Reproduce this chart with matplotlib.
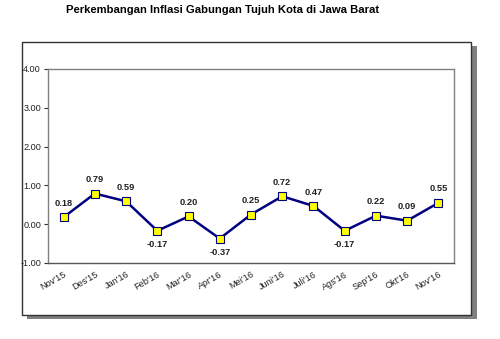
import matplotlib
matplotlib.use("Agg")
import matplotlib.pyplot as plt
from matplotlib.patches import Rectangle

plt.rcParams['font.family'] = ['Liberation Sans', 'DejaVu Sans']

months = ["Nov'15", "Des'15", "Jan'16", "Feb'16", "Mar'16", "Apr'16", "Mei'16",
          "Juni'16", "Juli'16", "Ags'16", "Sep'16", "Okt'16", "Nov'16"]
inflasi = [0.18, 0.79, 0.59, -0.17, 0.20, -0.37, 0.25, 0.72, 0.47, -0.17, 0.22, 0.09, 0.55]
yticks = [-1.0, 0.0, 1.0, 2.0, 3.0, 4.0]

W, H = 500, 339
fig = plt.figure(figsize=(W/100, H/100), dpi=100)

def fx(px):
    return px / W

def fy(py):
    return 1 - py / H

# shadow and outer frame
shadow = Rectangle((fx(27), fy(319)), fx(477) - fx(27), fy(46) - fy(319),
                   transform=fig.transFigure, facecolor='#808080', edgecolor='none', zorder=0)
frame = Rectangle((fx(22), fy(315)), fx(471) - fx(22), fy(42) - fy(315),
                  transform=fig.transFigure, facecolor='white', edgecolor='#333333',
                  linewidth=1.0, zorder=1)
fig.patches.extend([shadow, frame])

fig.text(fx(223), fy(10), 'Perkembangan Inflasi Gabungan Tujuh Kota di Jawa Barat',
         ha='center', va='center', fontsize=8.1, fontweight='bold', color='black')

ax = fig.add_axes([fx(48), fy(263), fx(454) - fx(48), fy(69) - fy(263)])
ax.set_zorder(2)
x = list(range(len(months)))
ax.plot(x, inflasi, color='#000080', linewidth=1.8, marker='s', markersize=5.5,
        markerfacecolor='#ffff00', markeredgecolor='#000080', markeredgewidth=0.8, zorder=3)

for xi, v in zip(x, inflasi):
    off = 10 if v >= 0 else -10
    ax.annotate(f'{v:.2f}', (xi, v), xytext=(0, off), textcoords='offset points',
                ha='center', va='center', fontsize=6.7, fontweight='bold', color='#222222')

ax.set_xlim(-0.5, len(months) - 0.5)
ax.set_ylim(-1, 4)
ax.set_yticks(yticks)
ax.set_yticklabels([f'{t:.2f}' for t in yticks])
ax.set_xticks(x)
ax.set_xticklabels(months, rotation=30, ha='right', rotation_mode='anchor')
ax.tick_params(axis='y', length=3, width=0.8, color='#333333', labelsize=6.6,
               labelcolor='#222222', pad=2)
ax.tick_params(axis='x', length=0, labelsize=6.6, labelcolor='#222222', pad=5)
for s in ['top', 'right', 'left']:
    ax.spines[s].set_color('#808080')
    ax.spines[s].set_linewidth(1.0)
ax.spines['bottom'].set_color('#555555')
ax.spines['bottom'].set_linewidth(1.0)

fig.savefig('out.png', dpi=100)
